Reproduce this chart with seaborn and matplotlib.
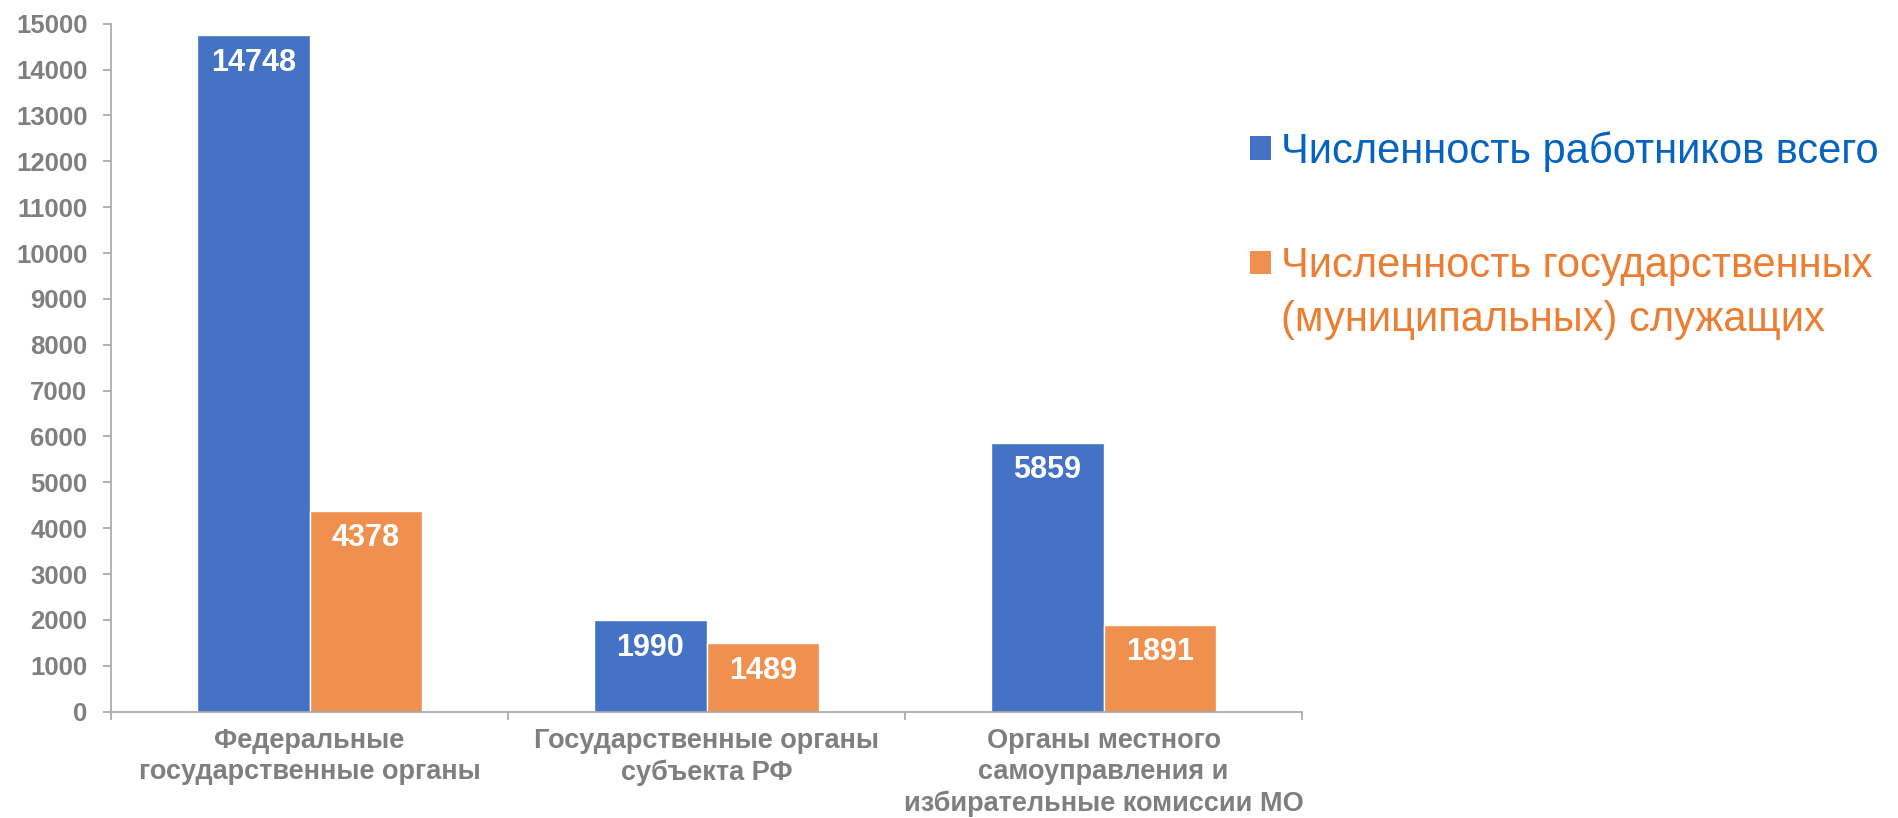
import numpy as np
import pandas as pd
import seaborn as sns
import matplotlib.pyplot as plt
from matplotlib.patches import Patch
from matplotlib.ticker import FixedLocator

# data
categories = ["Федеральные\nгосударственные органы",
              "Государственные органы\nсубъекта РФ",
              "Органы местного\nсамоуправления и\nизбирательные комиссии МО"]
series = ["Численность работников всего",
          "Численность государственных\n(муниципальных) служащих"]
total_staff = [14748, 1990, 5859]
civil_servants = [4378, 1489, 1891]
y_ticks = list(range(0, 15001, 1000))

bar_colors = ["#4472C4", "#F0904E"]
text_colors = ["#0563C1", "#ED7D31"]
grey = "#7F7F7F"

sns.set_theme(style="white")
plt.rcParams['font.family'] = ['Liberation Sans', 'DejaVu Sans']

df = pd.DataFrame({
    "cat": categories * 2,
    "val": total_staff + civil_servants,
    "series": [series[0]] * 3 + [series[1]] * 3,
})

fig = plt.figure(figsize=(18.98, 8.18), dpi=100)
ax = fig.add_axes([0.0585, 0.130, 0.6275, 0.841])

sns.barplot(data=df, x="cat", y="val", hue="series", palette=bar_colors,
            width=0.567, gap=0, saturation=1, legend=False, ax=ax)

ax.set_xlim(-0.5, 2.5)
ax.set_ylim(0, 15000)
ax.set_yticks(y_ticks)
ax.set_xlabel("")
ax.set_ylabel("")

# value labels inside the top of each bar
for cont, vals in zip(ax.containers, [total_staff, civil_servants]):
    for patch, v in zip(cont, vals):
        ax.annotate(str(v), (patch.get_x() + patch.get_width() / 2, v),
                    xytext=(0, -9), textcoords="offset points",
                    ha="center", va="top", color="white",
                    fontsize=22, fontweight="bold")

for s in ["top", "right"]:
    ax.spines[s].set_visible(False)
for s in ["left", "bottom"]:
    ax.spines[s].set_color("#A6A6A6")
    ax.spines[s].set_linewidth(1.2)

ax.tick_params(axis="y", which="major", length=6, width=1.2, color="#A6A6A6",
               direction="out", left=True, pad=11, labelsize=18.5, labelcolor=grey)
for lbl in ax.get_yticklabels():
    lbl.set_fontweight("bold")

ax.xaxis.set_minor_locator(FixedLocator([-0.5, 0.5, 1.5, 2.5]))
ax.tick_params(axis="x", which="major", length=0, pad=12,
               labelsize=19.5, labelcolor=grey)
ax.tick_params(axis="x", which="minor", length=6, width=1.2, color="#A6A6A6",
               direction="out", bottom=True)
for lbl in ax.get_xticklabels():
    lbl.set_fontweight("bold")
    lbl.set_linespacing(1.25)
    lbl.set_verticalalignment("top")

# legend: handle sits beside the first line of each label
leg_kw = dict(loc="upper left", frameon=False, fontsize=30,
              handlelength=0.5, handleheight=0.5, handletextpad=0.25,
              borderpad=0, borderaxespad=0)
leg1 = fig.legend([Patch(facecolor=bar_colors[0], edgecolor="none")],
                  [series[0]], bbox_to_anchor=(0.6586, 0.840), **leg_kw)
lines2 = series[1].split("\n")
leg2 = fig.legend([Patch(facecolor=bar_colors[1], edgecolor="none"),
                   Patch(facecolor="none", edgecolor="none")],
                  lines2, bbox_to_anchor=(0.6586, 0.699),
                  labelspacing=0.32, **leg_kw)
for t in leg1.get_texts():
    t.set_color(text_colors[0])
for t in leg2.get_texts():
    t.set_color(text_colors[1])

fig.savefig("out.png", dpi=100)
